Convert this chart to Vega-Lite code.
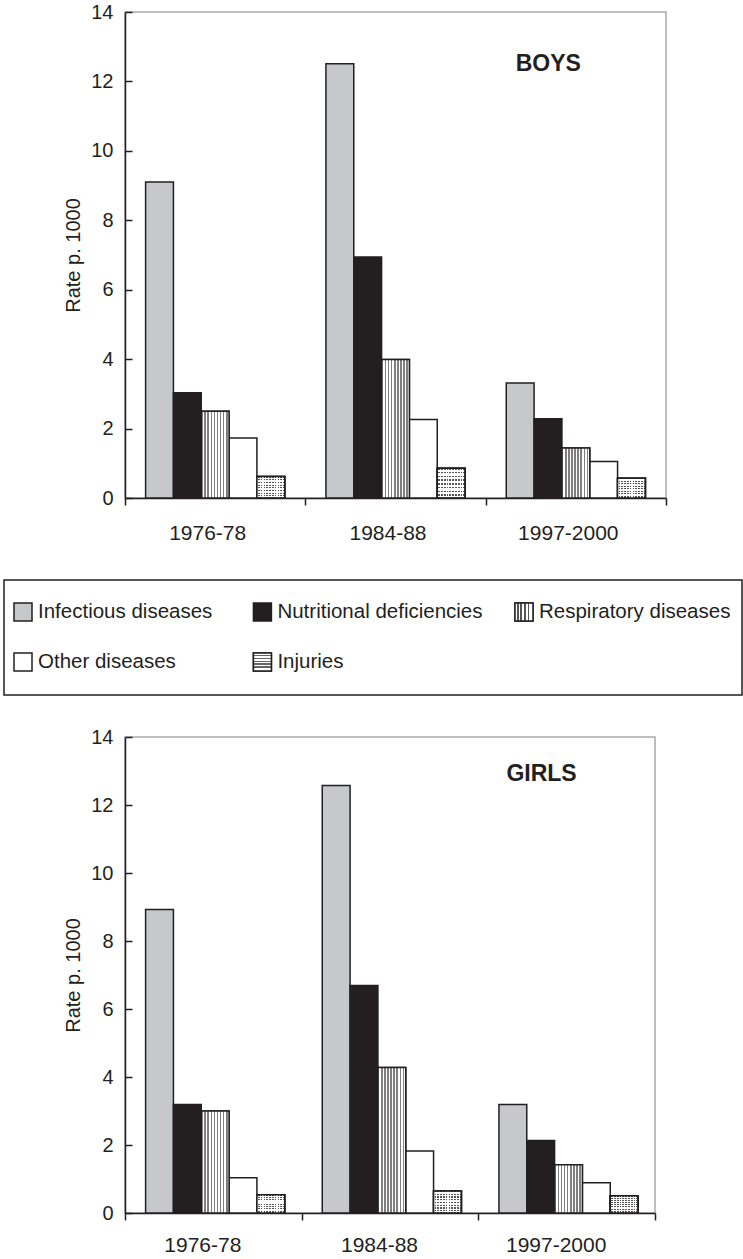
{
  "$schema": "https://vega.github.io/schema/vega-lite/v6.json",
  "padding": {"left": 3, "top": 1, "right": 0, "bottom": 0},
  "background": "white",
  "config": {
    "font": "Liberation Sans",
    "view": {"stroke": "#a7a9ac", "strokeWidth": 1.5},
    "axis": {"domainColor": "#231f20", "domainWidth": 1.5, "tickColor": "#231f20", "tickWidth": 1.5, "labelColor": "#231f20", "titleColor": "#231f20", "grid": false}
  },
  "datasets": {
    "rates": [
      {"sex": "Boys", "period": "1976-78", "disease": "Infectious diseases", "rate": 9.1},
      {"sex": "Boys", "period": "1976-78", "disease": "Nutritional deficiencies", "rate": 3.03},
      {"sex": "Boys", "period": "1976-78", "disease": "Respiratory diseases", "rate": 2.5},
      {"sex": "Boys", "period": "1976-78", "disease": "Other diseases", "rate": 1.73},
      {"sex": "Boys", "period": "1976-78", "disease": "Injuries", "rate": 0.62},
      {"sex": "Boys", "period": "1984-88", "disease": "Infectious diseases", "rate": 12.51},
      {"sex": "Boys", "period": "1984-88", "disease": "Nutritional deficiencies", "rate": 6.94},
      {"sex": "Boys", "period": "1984-88", "disease": "Respiratory diseases", "rate": 3.99},
      {"sex": "Boys", "period": "1984-88", "disease": "Other diseases", "rate": 2.26},
      {"sex": "Boys", "period": "1984-88", "disease": "Injuries", "rate": 0.86},
      {"sex": "Boys", "period": "1997-2000", "disease": "Infectious diseases", "rate": 3.31},
      {"sex": "Boys", "period": "1997-2000", "disease": "Nutritional deficiencies", "rate": 2.28},
      {"sex": "Boys", "period": "1997-2000", "disease": "Respiratory diseases", "rate": 1.44},
      {"sex": "Boys", "period": "1997-2000", "disease": "Other diseases", "rate": 1.05},
      {"sex": "Boys", "period": "1997-2000", "disease": "Injuries", "rate": 0.57},
      {"sex": "Girls", "period": "1976-78", "disease": "Infectious diseases", "rate": 8.93},
      {"sex": "Girls", "period": "1976-78", "disease": "Nutritional deficiencies", "rate": 3.19},
      {"sex": "Girls", "period": "1976-78", "disease": "Respiratory diseases", "rate": 3.0},
      {"sex": "Girls", "period": "1976-78", "disease": "Other diseases", "rate": 1.04},
      {"sex": "Girls", "period": "1976-78", "disease": "Injuries", "rate": 0.54},
      {"sex": "Girls", "period": "1984-88", "disease": "Infectious diseases", "rate": 12.57},
      {"sex": "Girls", "period": "1984-88", "disease": "Nutritional deficiencies", "rate": 6.69},
      {"sex": "Girls", "period": "1984-88", "disease": "Respiratory diseases", "rate": 4.28},
      {"sex": "Girls", "period": "1984-88", "disease": "Other diseases", "rate": 1.82},
      {"sex": "Girls", "period": "1984-88", "disease": "Injuries", "rate": 0.65},
      {"sex": "Girls", "period": "1997-2000", "disease": "Infectious diseases", "rate": 3.19},
      {"sex": "Girls", "period": "1997-2000", "disease": "Nutritional deficiencies", "rate": 2.13},
      {"sex": "Girls", "period": "1997-2000", "disease": "Respiratory diseases", "rate": 1.42},
      {"sex": "Girls", "period": "1997-2000", "disease": "Other diseases", "rate": 0.89},
      {"sex": "Girls", "period": "1997-2000", "disease": "Injuries", "rate": 0.51}
    ],
    "legend": [
      {"disease": "Infectious diseases", "col": 1, "row": 1},
      {"disease": "Nutritional deficiencies", "col": 2, "row": 1},
      {"disease": "Respiratory diseases", "col": 3, "row": 1},
      {"disease": "Other diseases", "col": 1, "row": 2},
      {"disease": "Injuries", "col": 2, "row": 2}
    ]
  },
  "vconcat": [
    {
      "spacing": 35,
      "vconcat": [
        {
          "spacing": 0,
          "hconcat": [
            {"width": 59, "height": 10, "data": {"values": []}, "mark": "point", "encoding": {}, "view": {"stroke": null}},
            {
              "width": 541,
              "height": 486,
              "layer": [
                {
                  "data": {"name": "rates"},
                  "transform": [{"filter": "datum.sex === 'Boys'"}],
                  "encoding": {
                    "x": {"field": "period", "type": "nominal", "scale": {"domain": ["1976-78", "1984-88", "1997-2000"], "paddingInner": 0, "paddingOuter": 0}, "axis": {"title": null, "labelAngle": 0, "tickBand": "extent", "tickSize": 7, "labelPadding": 17, "labelFontSize": 21, "labelOffset": -8}},
                    "xOffset": {"field": "disease", "type": "nominal", "scale": {"domain": ["Infectious diseases", "Nutritional deficiencies", "Respiratory diseases", "Other diseases", "Injuries"], "paddingInner": 0, "paddingOuter": 0.74}},
                    "y": {"field": "rate", "type": "quantitative", "scale": {"domain": [0, 14], "nice": false}, "axis": {"title": "Rate p. 1000", "values": [0, 2, 4, 6, 8, 10, 12, 14], "tickSize": -7, "labelPadding": 19, "labelFontSize": 20, "titleFontSize": 20, "titleFontWeight": "normal", "titlePadding": 7}}
                  },
                  "layer": [
                    {"mark": {"type": "bar", "stroke": "#231f20", "strokeWidth": 1.5},
                     "encoding": {"fill": {"field": "disease", "type": "nominal", "scale": {"domain": ["Infectious diseases", "Nutritional deficiencies", "Respiratory diseases", "Other diseases", "Injuries"], "range": ["#c7c8ca", "#231f20", "#ffffff", "#ffffff", "#ffffff"]}, "legend": null}}},
                    {"transform": [{"filter": "datum.disease === 'Respiratory diseases'"}],
                     "mark": {"type": "bar", "stroke": "#231f20", "strokeWidth": 1.5, "fill": {"gradient": "linear", "x1": 0, "y1": 0, "x2": 1, "y2": 0, "stops": [
                       {"offset": 0, "color": "#7f7f7f"}, {"offset": 0.0556, "color": "#7f7f7f"}, {"offset": 0.0556, "color": "#ffffff"}, {"offset": 0.1111, "color": "#ffffff"},
                       {"offset": 0.1111, "color": "#7f7f7f"}, {"offset": 0.1667, "color": "#7f7f7f"}, {"offset": 0.1667, "color": "#ffffff"}, {"offset": 0.2222, "color": "#ffffff"},
                       {"offset": 0.2222, "color": "#7f7f7f"}, {"offset": 0.2778, "color": "#7f7f7f"}, {"offset": 0.2778, "color": "#ffffff"}, {"offset": 0.3333, "color": "#ffffff"},
                       {"offset": 0.3333, "color": "#7f7f7f"}, {"offset": 0.3889, "color": "#7f7f7f"}, {"offset": 0.3889, "color": "#ffffff"}, {"offset": 0.4444, "color": "#ffffff"},
                       {"offset": 0.4444, "color": "#7f7f7f"}, {"offset": 0.5, "color": "#7f7f7f"}, {"offset": 0.5, "color": "#ffffff"}, {"offset": 0.5556, "color": "#ffffff"},
                       {"offset": 0.5556, "color": "#7f7f7f"}, {"offset": 0.6111, "color": "#7f7f7f"}, {"offset": 0.6111, "color": "#ffffff"}, {"offset": 0.6667, "color": "#ffffff"},
                       {"offset": 0.6667, "color": "#7f7f7f"}, {"offset": 0.7222, "color": "#7f7f7f"}, {"offset": 0.7222, "color": "#ffffff"}, {"offset": 0.7778, "color": "#ffffff"},
                       {"offset": 0.7778, "color": "#7f7f7f"}, {"offset": 0.8333, "color": "#7f7f7f"}, {"offset": 0.8333, "color": "#ffffff"}, {"offset": 0.8889, "color": "#ffffff"},
                       {"offset": 0.8889, "color": "#7f7f7f"}, {"offset": 0.9444, "color": "#7f7f7f"}, {"offset": 0.9444, "color": "#ffffff"}, {"offset": 1, "color": "#ffffff"}]}}},
                    {"transform": [{"filter": "datum.disease === 'Injuries'"}],
                     "mark": {"type": "bar", "stroke": "#231f20", "strokeWidth": 1.5, "fill": {"gradient": "linear", "x1": 0, "y1": 0, "x2": 0, "y2": 1, "stops": [
                       {"offset": 0, "color": "#555555"}, {"offset": 0.05, "color": "#555555"}, {"offset": 0.05, "color": "#ffffff"}, {"offset": 0.125, "color": "#ffffff"},
                       {"offset": 0.125, "color": "#555555"}, {"offset": 0.175, "color": "#555555"}, {"offset": 0.175, "color": "#ffffff"}, {"offset": 0.25, "color": "#ffffff"},
                       {"offset": 0.25, "color": "#555555"}, {"offset": 0.3, "color": "#555555"}, {"offset": 0.3, "color": "#ffffff"}, {"offset": 0.375, "color": "#ffffff"},
                       {"offset": 0.375, "color": "#555555"}, {"offset": 0.425, "color": "#555555"}, {"offset": 0.425, "color": "#ffffff"}, {"offset": 0.5, "color": "#ffffff"},
                       {"offset": 0.5, "color": "#555555"}, {"offset": 0.55, "color": "#555555"}, {"offset": 0.55, "color": "#ffffff"}, {"offset": 0.625, "color": "#ffffff"},
                       {"offset": 0.625, "color": "#555555"}, {"offset": 0.675, "color": "#555555"}, {"offset": 0.675, "color": "#ffffff"}, {"offset": 0.75, "color": "#ffffff"},
                       {"offset": 0.75, "color": "#555555"}, {"offset": 0.8, "color": "#555555"}, {"offset": 0.8, "color": "#ffffff"}, {"offset": 0.875, "color": "#ffffff"},
                       {"offset": 0.875, "color": "#555555"}, {"offset": 0.925, "color": "#555555"}, {"offset": 0.925, "color": "#ffffff"}, {"offset": 1, "color": "#ffffff"}]}}},
                    {"transform": [{"filter": "datum.disease === 'Injuries'"}],
                     "mark": {"type": "bar", "stroke": "#231f20", "strokeWidth": 1.5, "fill": {"gradient": "linear", "x1": 0, "y1": 0, "x2": 1, "y2": 0, "stops": [
                       {"offset": 0, "color": "rgba(255,255,255,1)"}, {"offset": 0.04, "color": "rgba(255,255,255,1)"}, {"offset": 0.04, "color": "rgba(255,255,255,0)"}, {"offset": 0.1, "color": "rgba(255,255,255,0)"},
                       {"offset": 0.1, "color": "rgba(255,255,255,1)"}, {"offset": 0.14, "color": "rgba(255,255,255,1)"}, {"offset": 0.14, "color": "rgba(255,255,255,0)"}, {"offset": 0.2, "color": "rgba(255,255,255,0)"},
                       {"offset": 0.2, "color": "rgba(255,255,255,1)"}, {"offset": 0.24, "color": "rgba(255,255,255,1)"}, {"offset": 0.24, "color": "rgba(255,255,255,0)"}, {"offset": 0.3, "color": "rgba(255,255,255,0)"},
                       {"offset": 0.3, "color": "rgba(255,255,255,1)"}, {"offset": 0.34, "color": "rgba(255,255,255,1)"}, {"offset": 0.34, "color": "rgba(255,255,255,0)"}, {"offset": 0.4, "color": "rgba(255,255,255,0)"},
                       {"offset": 0.4, "color": "rgba(255,255,255,1)"}, {"offset": 0.44, "color": "rgba(255,255,255,1)"}, {"offset": 0.44, "color": "rgba(255,255,255,0)"}, {"offset": 0.5, "color": "rgba(255,255,255,0)"},
                       {"offset": 0.5, "color": "rgba(255,255,255,1)"}, {"offset": 0.54, "color": "rgba(255,255,255,1)"}, {"offset": 0.54, "color": "rgba(255,255,255,0)"}, {"offset": 0.6, "color": "rgba(255,255,255,0)"},
                       {"offset": 0.6, "color": "rgba(255,255,255,1)"}, {"offset": 0.64, "color": "rgba(255,255,255,1)"}, {"offset": 0.64, "color": "rgba(255,255,255,0)"}, {"offset": 0.7, "color": "rgba(255,255,255,0)"},
                       {"offset": 0.7, "color": "rgba(255,255,255,1)"}, {"offset": 0.74, "color": "rgba(255,255,255,1)"}, {"offset": 0.74, "color": "rgba(255,255,255,0)"}, {"offset": 0.8, "color": "rgba(255,255,255,0)"},
                       {"offset": 0.8, "color": "rgba(255,255,255,1)"}, {"offset": 0.84, "color": "rgba(255,255,255,1)"}, {"offset": 0.84, "color": "rgba(255,255,255,0)"}, {"offset": 0.9, "color": "rgba(255,255,255,0)"},
                       {"offset": 0.9, "color": "rgba(255,255,255,1)"}, {"offset": 0.94, "color": "rgba(255,255,255,1)"}, {"offset": 0.94, "color": "rgba(255,255,255,0)"}, {"offset": 1, "color": "rgba(255,255,255,0)"}]}}}
                  ]
                },
                {
                  "data": {"values": [{"label": "BOYS"}]},
                  "mark": {"type": "text", "align": "right", "baseline": "middle", "fontSize": 23, "fontWeight": "bold", "dx": 5, "color": "#231f20"},
                  "encoding": {
                    "x": {"datum": "1997-2000", "type": "nominal", "scale": {"domain": ["1976-78", "1984-88", "1997-2000"], "paddingInner": 0, "paddingOuter": 0}, "axis": {"title": null, "labelAngle": 0, "tickBand": "extent", "tickSize": 7, "labelPadding": 17, "labelFontSize": 21, "labelOffset": -8}},
                    "y": {"datum": 12.5, "type": "quantitative", "scale": {"domain": [0, 14], "nice": false}, "axis": {"title": "Rate p. 1000", "values": [0, 2, 4, 6, 8, 10, 12, 14], "tickSize": -7, "labelPadding": 19, "labelFontSize": 20, "titleFontSize": 20, "titleFontWeight": "normal", "titlePadding": 7}},
                    "text": {"field": "label"}
                  }
                }
              ]
            }
          ]
        },
        {
          "width": 738,
          "height": 115,
          "view": {"stroke": "#231f20", "strokeWidth": 1.5},
          "data": {"name": "legend"},
          "encoding": {
            "x": {"field": "col", "type": "quantitative", "scale": {"type": "pow", "exponent": 1.17, "domain": [1, 3], "range": [19, 520]}, "axis": null},
            "y": {"field": "row", "type": "quantitative", "scale": {"domain": [1, 2], "range": [32, 82]}, "axis": null}
          },
          "layer": [
            {"mark": {"type": "point", "shape": "square", "size": 324, "filled": true, "opacity": 1, "stroke": "#231f20", "strokeWidth": 1.5},
             "encoding": {"fill": {"field": "disease", "type": "nominal", "scale": {"domain": ["Infectious diseases", "Nutritional deficiencies", "Respiratory diseases", "Other diseases", "Injuries"], "range": ["#c7c8ca", "#231f20", "#ffffff", "#ffffff", "#ffffff"]}, "legend": null}}},
            {"transform": [{"filter": "datum.disease === 'Respiratory diseases'"}],
             "mark": {"type": "point", "shape": "square", "size": 324, "filled": true, "opacity": 1, "stroke": "#231f20", "strokeWidth": 1.5, "fill": {"gradient": "linear", "x1": 0, "y1": 0, "x2": 1, "y2": 0, "stops": [
               {"offset": 0, "color": "#ffffff"}, {"offset": 0.1, "color": "#ffffff"}, {"offset": 0.1, "color": "#555555"}, {"offset": 0.2, "color": "#555555"},
               {"offset": 0.2, "color": "#ffffff"}, {"offset": 0.3, "color": "#ffffff"}, {"offset": 0.3, "color": "#555555"}, {"offset": 0.4, "color": "#555555"},
               {"offset": 0.4, "color": "#ffffff"}, {"offset": 0.5, "color": "#ffffff"}, {"offset": 0.5, "color": "#555555"}, {"offset": 0.6, "color": "#555555"},
               {"offset": 0.6, "color": "#ffffff"}, {"offset": 0.7, "color": "#ffffff"}, {"offset": 0.7, "color": "#555555"}, {"offset": 0.8, "color": "#555555"},
               {"offset": 0.8, "color": "#ffffff"}, {"offset": 1, "color": "#ffffff"}]}}},
            {"transform": [{"filter": "datum.disease === 'Injuries'"}],
             "mark": {"type": "point", "shape": "square", "size": 324, "filled": true, "opacity": 1, "stroke": "#231f20", "strokeWidth": 1.5, "fill": {"gradient": "linear", "x1": 0, "y1": 0, "x2": 0, "y2": 1, "stops": [
               {"offset": 0, "color": "#ffffff"}, {"offset": 0.1, "color": "#ffffff"}, {"offset": 0.1, "color": "#666666"}, {"offset": 0.18, "color": "#666666"},
               {"offset": 0.18, "color": "#ffffff"}, {"offset": 0.26, "color": "#ffffff"}, {"offset": 0.26, "color": "#666666"}, {"offset": 0.34, "color": "#666666"},
               {"offset": 0.34, "color": "#ffffff"}, {"offset": 0.42, "color": "#ffffff"}, {"offset": 0.42, "color": "#666666"}, {"offset": 0.5, "color": "#666666"},
               {"offset": 0.5, "color": "#ffffff"}, {"offset": 0.58, "color": "#ffffff"}, {"offset": 0.58, "color": "#666666"}, {"offset": 0.66, "color": "#666666"},
               {"offset": 0.66, "color": "#ffffff"}, {"offset": 0.74, "color": "#ffffff"}, {"offset": 0.74, "color": "#666666"}, {"offset": 0.82, "color": "#666666"},
               {"offset": 0.82, "color": "#ffffff"}, {"offset": 1, "color": "#ffffff"}]}}},
            {"mark": {"type": "text", "align": "left", "baseline": "middle", "dx": 15, "fontSize": 20.5, "color": "#231f20"},
             "encoding": {"text": {"field": "disease"}}}
          ]
        }
      ]
    },
    {
      "spacing": 0,
      "hconcat": [
        {"width": 59, "height": 10, "data": {"values": []}, "mark": "point", "encoding": {}, "view": {"stroke": null}},
        {
          "width": 530,
          "height": 476,
          "layer": [
            {
              "data": {"name": "rates"},
              "transform": [{"filter": "datum.sex === 'Girls'"}],
              "encoding": {
                "x": {"field": "period", "type": "nominal", "scale": {"domain": ["1976-78", "1984-88", "1997-2000"], "paddingInner": 0, "paddingOuter": 0}, "axis": {"title": null, "labelAngle": 0, "tickBand": "extent", "tickSize": 7, "labelPadding": 14, "labelFontSize": 21, "labelOffset": -11}},
                "xOffset": {"field": "disease", "type": "nominal", "scale": {"domain": ["Infectious diseases", "Nutritional deficiencies", "Respiratory diseases", "Other diseases", "Injuries"], "paddingInner": 0, "paddingOuter": 0.74}},
                "y": {"field": "rate", "type": "quantitative", "scale": {"domain": [0, 14], "nice": false}, "axis": {"title": "Rate p. 1000", "values": [0, 2, 4, 6, 8, 10, 12, 14], "tickSize": -7, "labelPadding": 19, "labelFontSize": 20, "titleFontSize": 20, "titleFontWeight": "normal", "titlePadding": 7}}
              },
              "layer": [
                {"mark": {"type": "bar", "stroke": "#231f20", "strokeWidth": 1.5},
                 "encoding": {"fill": {"field": "disease", "type": "nominal", "scale": {"domain": ["Infectious diseases", "Nutritional deficiencies", "Respiratory diseases", "Other diseases", "Injuries"], "range": ["#c7c8ca", "#231f20", "#ffffff", "#ffffff", "#ffffff"]}, "legend": null}}},
                {"transform": [{"filter": "datum.disease === 'Respiratory diseases'"}],
                 "mark": {"type": "bar", "stroke": "#231f20", "strokeWidth": 1.5, "fill": {"gradient": "linear", "x1": 0, "y1": 0, "x2": 1, "y2": 0, "stops": [
                   {"offset": 0, "color": "#7f7f7f"}, {"offset": 0.0556, "color": "#7f7f7f"}, {"offset": 0.0556, "color": "#ffffff"}, {"offset": 0.1111, "color": "#ffffff"},
                   {"offset": 0.1111, "color": "#7f7f7f"}, {"offset": 0.1667, "color": "#7f7f7f"}, {"offset": 0.1667, "color": "#ffffff"}, {"offset": 0.2222, "color": "#ffffff"},
                   {"offset": 0.2222, "color": "#7f7f7f"}, {"offset": 0.2778, "color": "#7f7f7f"}, {"offset": 0.2778, "color": "#ffffff"}, {"offset": 0.3333, "color": "#ffffff"},
                   {"offset": 0.3333, "color": "#7f7f7f"}, {"offset": 0.3889, "color": "#7f7f7f"}, {"offset": 0.3889, "color": "#ffffff"}, {"offset": 0.4444, "color": "#ffffff"},
                   {"offset": 0.4444, "color": "#7f7f7f"}, {"offset": 0.5, "color": "#7f7f7f"}, {"offset": 0.5, "color": "#ffffff"}, {"offset": 0.5556, "color": "#ffffff"},
                   {"offset": 0.5556, "color": "#7f7f7f"}, {"offset": 0.6111, "color": "#7f7f7f"}, {"offset": 0.6111, "color": "#ffffff"}, {"offset": 0.6667, "color": "#ffffff"},
                   {"offset": 0.6667, "color": "#7f7f7f"}, {"offset": 0.7222, "color": "#7f7f7f"}, {"offset": 0.7222, "color": "#ffffff"}, {"offset": 0.7778, "color": "#ffffff"},
                   {"offset": 0.7778, "color": "#7f7f7f"}, {"offset": 0.8333, "color": "#7f7f7f"}, {"offset": 0.8333, "color": "#ffffff"}, {"offset": 0.8889, "color": "#ffffff"},
                   {"offset": 0.8889, "color": "#7f7f7f"}, {"offset": 0.9444, "color": "#7f7f7f"}, {"offset": 0.9444, "color": "#ffffff"}, {"offset": 1, "color": "#ffffff"}]}}},
                {"transform": [{"filter": "datum.disease === 'Injuries'"}],
                 "mark": {"type": "bar", "stroke": "#231f20", "strokeWidth": 1.5, "fill": {"gradient": "linear", "x1": 0, "y1": 0, "x2": 0, "y2": 1, "stops": [
                   {"offset": 0, "color": "#555555"}, {"offset": 0.05, "color": "#555555"}, {"offset": 0.05, "color": "#ffffff"}, {"offset": 0.125, "color": "#ffffff"},
                   {"offset": 0.125, "color": "#555555"}, {"offset": 0.175, "color": "#555555"}, {"offset": 0.175, "color": "#ffffff"}, {"offset": 0.25, "color": "#ffffff"},
                   {"offset": 0.25, "color": "#555555"}, {"offset": 0.3, "color": "#555555"}, {"offset": 0.3, "color": "#ffffff"}, {"offset": 0.375, "color": "#ffffff"},
                   {"offset": 0.375, "color": "#555555"}, {"offset": 0.425, "color": "#555555"}, {"offset": 0.425, "color": "#ffffff"}, {"offset": 0.5, "color": "#ffffff"},
                   {"offset": 0.5, "color": "#555555"}, {"offset": 0.55, "color": "#555555"}, {"offset": 0.55, "color": "#ffffff"}, {"offset": 0.625, "color": "#ffffff"},
                   {"offset": 0.625, "color": "#555555"}, {"offset": 0.675, "color": "#555555"}, {"offset": 0.675, "color": "#ffffff"}, {"offset": 0.75, "color": "#ffffff"},
                   {"offset": 0.75, "color": "#555555"}, {"offset": 0.8, "color": "#555555"}, {"offset": 0.8, "color": "#ffffff"}, {"offset": 0.875, "color": "#ffffff"},
                   {"offset": 0.875, "color": "#555555"}, {"offset": 0.925, "color": "#555555"}, {"offset": 0.925, "color": "#ffffff"}, {"offset": 1, "color": "#ffffff"}]}}},
                {"transform": [{"filter": "datum.disease === 'Injuries'"}],
                 "mark": {"type": "bar", "stroke": "#231f20", "strokeWidth": 1.5, "fill": {"gradient": "linear", "x1": 0, "y1": 0, "x2": 1, "y2": 0, "stops": [
                   {"offset": 0, "color": "rgba(255,255,255,1)"}, {"offset": 0.04, "color": "rgba(255,255,255,1)"}, {"offset": 0.04, "color": "rgba(255,255,255,0)"}, {"offset": 0.1, "color": "rgba(255,255,255,0)"},
                   {"offset": 0.1, "color": "rgba(255,255,255,1)"}, {"offset": 0.14, "color": "rgba(255,255,255,1)"}, {"offset": 0.14, "color": "rgba(255,255,255,0)"}, {"offset": 0.2, "color": "rgba(255,255,255,0)"},
                   {"offset": 0.2, "color": "rgba(255,255,255,1)"}, {"offset": 0.24, "color": "rgba(255,255,255,1)"}, {"offset": 0.24, "color": "rgba(255,255,255,0)"}, {"offset": 0.3, "color": "rgba(255,255,255,0)"},
                   {"offset": 0.3, "color": "rgba(255,255,255,1)"}, {"offset": 0.34, "color": "rgba(255,255,255,1)"}, {"offset": 0.34, "color": "rgba(255,255,255,0)"}, {"offset": 0.4, "color": "rgba(255,255,255,0)"},
                   {"offset": 0.4, "color": "rgba(255,255,255,1)"}, {"offset": 0.44, "color": "rgba(255,255,255,1)"}, {"offset": 0.44, "color": "rgba(255,255,255,0)"}, {"offset": 0.5, "color": "rgba(255,255,255,0)"},
                   {"offset": 0.5, "color": "rgba(255,255,255,1)"}, {"offset": 0.54, "color": "rgba(255,255,255,1)"}, {"offset": 0.54, "color": "rgba(255,255,255,0)"}, {"offset": 0.6, "color": "rgba(255,255,255,0)"},
                   {"offset": 0.6, "color": "rgba(255,255,255,1)"}, {"offset": 0.64, "color": "rgba(255,255,255,1)"}, {"offset": 0.64, "color": "rgba(255,255,255,0)"}, {"offset": 0.7, "color": "rgba(255,255,255,0)"},
                   {"offset": 0.7, "color": "rgba(255,255,255,1)"}, {"offset": 0.74, "color": "rgba(255,255,255,1)"}, {"offset": 0.74, "color": "rgba(255,255,255,0)"}, {"offset": 0.8, "color": "rgba(255,255,255,0)"},
                   {"offset": 0.8, "color": "rgba(255,255,255,1)"}, {"offset": 0.84, "color": "rgba(255,255,255,1)"}, {"offset": 0.84, "color": "rgba(255,255,255,0)"}, {"offset": 0.9, "color": "rgba(255,255,255,0)"},
                   {"offset": 0.9, "color": "rgba(255,255,255,1)"}, {"offset": 0.94, "color": "rgba(255,255,255,1)"}, {"offset": 0.94, "color": "rgba(255,255,255,0)"}, {"offset": 1, "color": "rgba(255,255,255,0)"}]}}}
              ]
            },
            {
              "data": {"values": [{"label": "GIRLS"}]},
              "mark": {"type": "text", "align": "right", "baseline": "middle", "fontSize": 23, "fontWeight": "bold", "dx": 10, "color": "#231f20"},
              "encoding": {
                "x": {"datum": "1997-2000", "type": "nominal", "scale": {"domain": ["1976-78", "1984-88", "1997-2000"], "paddingInner": 0, "paddingOuter": 0}, "axis": {"title": null, "labelAngle": 0, "tickBand": "extent", "tickSize": 7, "labelPadding": 14, "labelFontSize": 21, "labelOffset": -11}},
                "y": {"datum": 12.9, "type": "quantitative", "scale": {"domain": [0, 14], "nice": false}, "axis": {"title": "Rate p. 1000", "values": [0, 2, 4, 6, 8, 10, 12, 14], "tickSize": -7, "labelPadding": 19, "labelFontSize": 20, "titleFontSize": 20, "titleFontWeight": "normal", "titlePadding": 7}},
                "text": {"field": "label"}
              }
            }
          ]
        }
      ]
    }
  ],
  "spacing": 30
}
